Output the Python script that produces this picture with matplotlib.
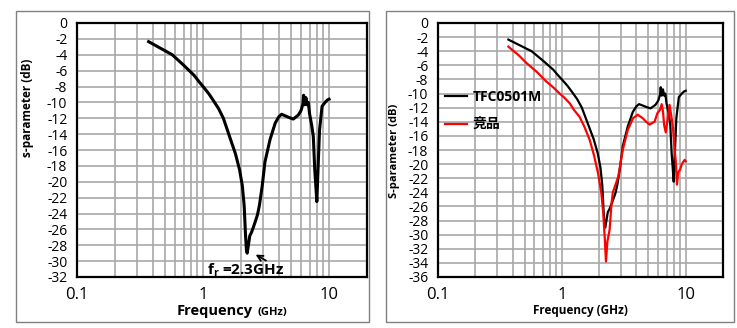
import matplotlib.pyplot as plt
from matplotlib.patches import Rectangle
from matplotlib.ticker import FixedLocator, NullFormatter

plt.rcParams['font.family'] = ['Open Sans', 'Noto Sans CJK SC', 'DejaVu Sans']
plt.rcParams['mathtext.fontset'] = 'custom'
plt.rcParams['mathtext.bf'] = 'Open Sans:bold'
plt.rcParams['mathtext.rm'] = 'Open Sans'

# TFC0501M measured curve (GHz, dB)
freq_tfc = [0.37, 0.45, 0.57, 0.7, 0.85, 0.93, 1.0, 1.11, 1.2, 1.33, 1.45, 1.6,
            1.81, 1.95, 2.05, 2.12, 2.17, 2.21, 2.24, 2.29, 2.35, 2.42, 2.5, 2.6,
            2.7, 2.8, 2.95, 3.1, 3.4, 3.74, 4.0, 4.2, 4.5, 4.8, 5.2, 5.7, 6.0,
            6.2, 6.28, 6.4, 6.55, 6.7, 6.85, 7.0, 7.3, 7.5, 7.7, 7.85, 8.0, 8.15,
            8.4, 8.8, 9.3, 9.7, 10.0]
s_tfc = [-2.35, -3.1, -4.0, -5.3, -6.6, -7.4, -8.0, -8.9, -9.7, -10.8, -12.0,
         -14.0, -16.5, -18.5, -20.5, -23.0, -26.5, -28.6, -29.0, -28.0, -26.8,
         -26.4, -25.8, -25.0, -24.2, -23.0, -20.5, -17.5, -14.7, -12.6, -11.8,
         -11.5, -11.7, -11.9, -12.1, -11.6, -11.0, -10.2, -9.1, -10.3, -9.4,
         -10.3, -10.0, -11.4, -13.0, -14.3, -18.5, -20.5, -22.5, -19.0, -13.5,
         -10.5, -10.0, -9.7, -9.6]

# competitor curve
freq_comp = [0.37, 0.45, 0.52, 0.625, 0.75, 0.85, 0.96, 1.05, 1.16, 1.25, 1.39,
             1.52, 1.68, 1.82, 1.96, 2.08, 2.16, 2.22, 2.27, 2.33, 2.43, 2.52,
             2.58, 2.7, 2.85, 3.1, 3.4, 3.75, 4.1, 4.5, 4.8, 5.1, 5.6, 5.9, 6.2,
             6.4, 6.55, 6.7, 6.9, 7.1, 7.4, 7.7, 7.9, 8.1, 8.3, 8.5, 8.65, 8.8,
             9.0, 9.3, 9.8, 10.0]
s_comp = [-3.35, -4.6, -5.7, -6.9, -8.3, -9.1, -10.0, -10.6, -11.4, -12.3,
          -13.3, -14.7, -16.6, -18.8, -21.3, -24.0, -27.0, -30.5, -33.8, -31.0,
          -29.3, -25.5, -24.0, -23.0, -21.8, -18.0, -15.2, -13.5, -13.0, -13.5,
          -14.0, -14.4, -14.0, -12.8, -12.3, -11.5, -12.5, -14.5, -15.5, -14.0,
          -11.6, -13.5, -15.0, -17.5, -19.5, -22.9, -21.5, -21.0, -20.8, -20.0,
          -19.4, -19.6]

x_ticks = [0.1, 1, 10]
x_ticklabels = ['0.1', '1', '10']
x_minor = [m * d for d in [0.1, 1] for m in range(2, 10)]

fig = plt.figure(figsize=(7.37, 3.28), dpi=100)

# gray outer frames around both panels
for x0, x1 in [(16, 369), (386, 734)]:
    fig.patches.append(Rectangle((x0 / 737, 1 - 322 / 328), (x1 - x0) / 737, 311 / 328,
                                 transform=fig.transFigure, fill=False,
                                 edgecolor='#808080', lw=1))


def setup(ax, ymin):
    ax.set_xscale('log')
    ax.set_xlim(0.1, 20)
    ax.set_ylim(ymin, 0)
    ax.xaxis.set_major_locator(FixedLocator(x_ticks))
    ax.xaxis.set_minor_locator(FixedLocator(x_minor))
    ax.xaxis.set_minor_formatter(NullFormatter())
    ax.set_xticklabels(x_ticklabels)
    yt = list(range(0, ymin - 1, -2))
    ax.set_yticks(yt)
    ax.set_yticklabels([str(v) for v in yt])
    ax.grid(True, which='both', color='#a8a8a8', lw=1.2)
    ax.set_axisbelow(True)
    ax.tick_params(which='both', length=0)
    ax.tick_params(axis='y', labelsize=10, pad=7)
    ax.tick_params(axis='x', labelsize=12, pad=7)
    for s in ax.spines.values():
        s.set_linewidth(1.6)
        s.set_color('black')


# left panel
ax1 = fig.add_axes([77 / 737, 1 - 277 / 328, 290 / 737, 254 / 328])
setup(ax1, -32)
ax1.plot(freq_tfc, s_tfc, color='black', lw=2.2)
ax1.text(0.607, -0.15, 'Frequency', transform=ax1.transAxes, ha='right',
         va='baseline', fontsize=10.5, fontweight='bold')
ax1.text(0.621, -0.15, '(GHz)', transform=ax1.transAxes, ha='left',
         va='baseline', fontsize=8, fontweight='bold')
fig.text(28 / 737, 1 - 108 / 328, 's-parameter (dB)', rotation=90, ha='center',
         va='center', fontsize=8.5, fontweight='bold')
ax1.text(2.19, -31.1, r'f$_{\mathbf{r}}$ =2.3GHz', ha='center', va='center',
         fontsize=11, fontweight='bold')
ax1.annotate('', xy=(2.5, -29.0), xytext=(3.3, -30.1),
             arrowprops=dict(arrowstyle='->', color='black', lw=1.3))

# right panel
ax2 = fig.add_axes([438 / 737, 1 - 277 / 328, 285 / 737, 254 / 328])
setup(ax2, -36)
ax2.plot(freq_tfc, s_tfc, color='black', lw=1.6, label='TFC0501M')
ax2.plot(freq_comp, s_comp, color='red', lw=1.6, label='竞品')
ax2.set_xlabel('Frequency (GHz)', fontsize=8.5, fontweight='bold', labelpad=1)
fig.text(395 / 737, 1 - 151 / 328, 'S-parameter (dB)', rotation=90, ha='center',
         va='center', fontsize=8, fontweight='bold')
ax2.legend(loc='upper left', bbox_to_anchor=(0.025, 0.735), frameon=False,
           borderpad=0, borderaxespad=0, handlelength=1.6, handletextpad=0.4,
           labelspacing=1.0, prop={'weight': 'bold', 'size': 10})

fig.savefig('out.png', dpi=100)
